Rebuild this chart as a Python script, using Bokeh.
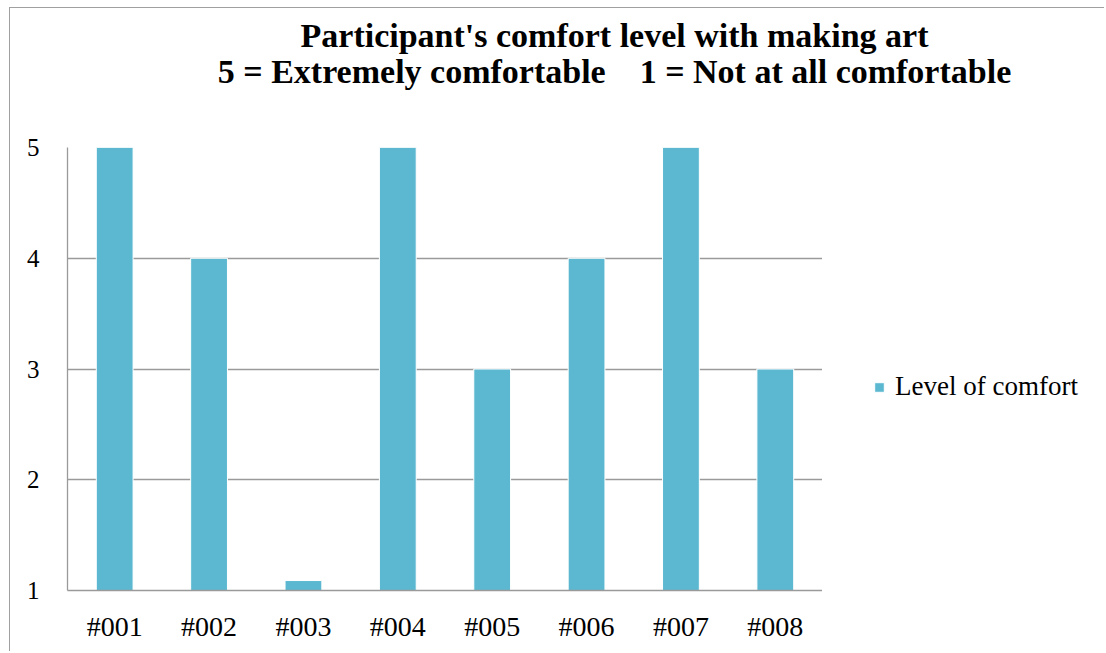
from bokeh.plotting import figure
from bokeh.models import Range1d, Legend, LegendItem, FixedTicker, Label
from bokeh.layouts import column, row
from bokeh.embed import file_html
from bokeh.resources import INLINE

participants = ["#001", "#002", "#003", "#004", "#005", "#006", "#007", "#008"]
comfort = [5, 4, 1.09, 5, 3, 4, 5, 3]
y_ticks = [1, 2, 3, 4, 5]
title_1 = "Participant's comfort level with making art"
title_2 = "5 = Extremely comfortable\u00a0\u00a0\u00a0\u00a01 = Not at all comfortable"
series_name = "Level of comfort"

FONT = "Liberation Serif"
BAR = "#5BB8D0"
GRID = "#9a9a9a"


def blank(width, height, xr, yr):
    f = figure(width=width, height=height, x_range=xr, y_range=yr,
               x_axis_location=None, y_axis_location=None,
               output_backend="svg", toolbar_location=None, min_border=0)
    f.grid.visible = False
    f.outline_line_color = None
    f.background_fill_color = "white"
    f.border_fill_color = "white"
    return f


# --- title strip ---
t = blank(1094, 127, Range1d(0, 1094), Range1d(0, 127))
t.add_layout(Label(x=604, y=100, text=title_1, text_font=FONT, text_font_style="bold",
                   text_font_size="34px", text_align="center", text_baseline="alphabetic",
                   text_color="black"))
t.add_layout(Label(x=604, y=64, text=title_2, text_font=FONT, text_font_style="bold",
                   text_font_size="34px", text_align="center", text_baseline="alphabetic",
                   text_color="black"))

# --- main chart ---
p = figure(width=812, height=516, x_range=participants, y_range=Range1d(1, 5),
           output_backend="svg", toolbar_location=None,
           min_border_left=57, min_border_right=0, min_border_top=12, min_border_bottom=61)
p.outline_line_color = None
p.background_fill_color = "white"
p.border_fill_color = "white"

r = p.vbar(x=participants, top=comfort, bottom=1, width=0.39,
           fill_color=BAR, line_color="white", line_width=1)

p.xgrid.grid_line_color = None
p.ygrid.grid_line_color = GRID
p.ygrid.grid_line_width = 1.3
p.yaxis.ticker = FixedTicker(ticks=y_ticks)
for ax in (p.xaxis[0], p.yaxis[0]):
    ax.axis_line_color = GRID
    ax.axis_line_width = 1.3
    ax.major_tick_line_color = None
    ax.minor_tick_line_color = None
    ax.major_label_text_font = FONT
    ax.major_label_text_color = "black"
p.yaxis.major_label_text_font_size = "25px"
p.yaxis.major_label_standoff = 22
p.xaxis.major_label_text_font_size = "28px"
p.xaxis.major_label_standoff = 14

# --- legend panel (proxy bar lies far outside the visible range; only its swatch shows) ---
lg = blank(282, 516, Range1d(0, 1), Range1d(0, 1))
proxy = lg.vbar(x=[-5], top=[-5], bottom=[-6], width=0.39,
                fill_color=BAR, line_color="white", line_width=1)
legend = Legend(items=[LegendItem(label=series_name, renderers=[proxy])],
                location=(51, 188), padding=0, margin=0, border_line_color=None,
                background_fill_alpha=0, glyph_width=12, glyph_height=12,
                label_standoff=10, label_text_font=FONT, label_text_font_size="27px",
                label_text_color="black")
lg.add_layout(legend)

layout = column(t, row(p, lg, spacing=0), spacing=0,
                styles={"border-left": "1px solid #a0a0a0", "border-top": "1px solid #a0a0a0",
                        "margin-left": "9px", "margin-top": "7px"})

open("out.html", "w").write(file_html(layout, INLINE))
